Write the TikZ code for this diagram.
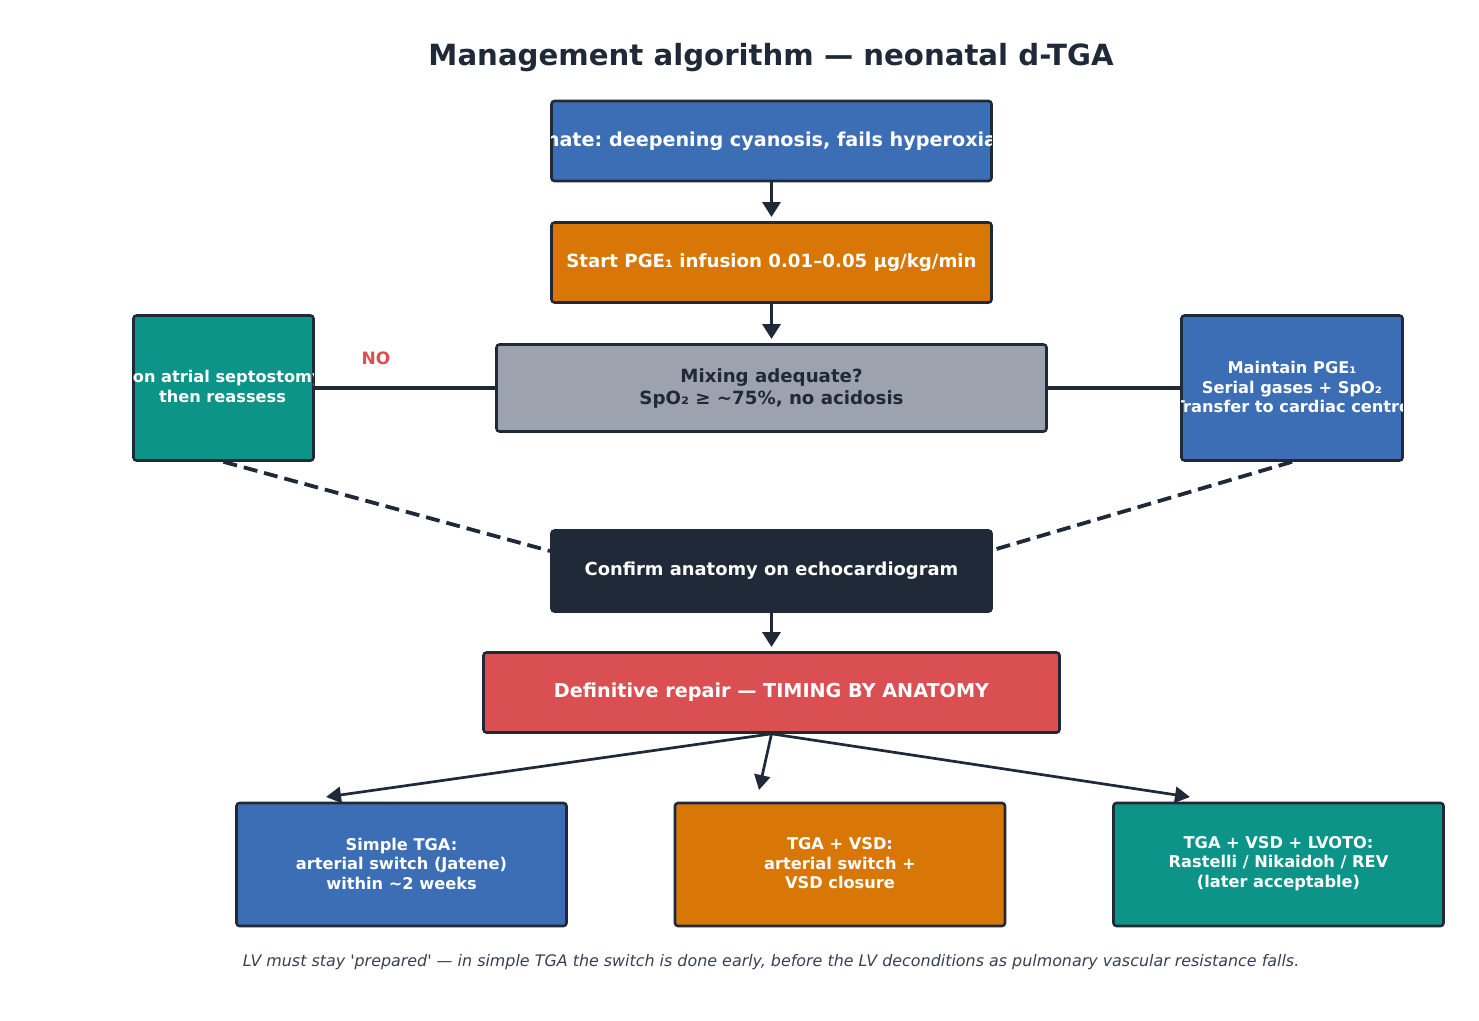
\documentclass[tikz,border=0pt]{standalone}
\usepackage{fontspec}
\setmainfont{DejaVu Sans}[Ligatures=TeXOff]
\usetikzlibrary{arrows.meta}
\frenchspacing
\definecolor{ink}{HTML}{1F2937}
\definecolor{cblue}{HTML}{3B6EB4}
\definecolor{corange}{HTML}{D97706}
\definecolor{cteal}{HTML}{0D9488}
\definecolor{cgray}{HTML}{9CA3AF}
\definecolor{cred}{HTML}{D94F52}
\definecolor{cfoot}{HTML}{374151}
\begin{document}
\frenchspacing
\begin{tikzpicture}[x=1pt,y=-1pt,
  box/.style={draw=ink, line width=2.6pt, rounded corners=3pt, inner sep=0pt},
  maintxt/.style={font=\fontsize{18.2}{22}\selectfont\bfseries, text=white, align=center},
  bigtxt/.style={font=\fontsize{19.2}{23}\selectfont\bfseries, text=white, align=center},
  smalltxt/.style={font=\fontsize{16.2}{19.5}\selectfont\bfseries, text=white, align=center},
  flow/.style={draw=ink, line width=3.4pt, -{Triangle[length=15pt,width=18pt]}},
  branch/.style={draw=ink, line width=2.7pt, -{Triangle[length=15pt,width=16pt]}},
  link/.style={draw=ink, line width=3.4pt},
  dashlink/.style={draw=ink, line width=3.8pt, dash pattern=on 14pt off 7pt}
]
\fill[white] (0,0) rectangle (1479,1020);
\useasboundingbox (0,0) rectangle (1479,1020);

% title
\node[font=\fontsize{29.2}{34}\selectfont\bfseries, text=ink] (title) at (771,58) {Management algorithm — neonatal d-TGA};

% boxes
\node[box, fill=cblue, minimum width=440pt, minimum height=80pt] (b1) at (771.5,141) {};
\node[box, fill=corange, minimum width=440pt, minimum height=80pt] (b2) at (771.5,262.5) {};
\node[box, fill=cgray, minimum width=550pt, minimum height=87pt] (mix) at (771.5,388) {};
\node[box, fill=cteal, minimum width=180pt, minimum height=145pt] (lbox) at (223.5,388) {};
\node[box, fill=cblue, minimum width=221pt, minimum height=145pt] (rbox) at (1292,388) {};
\node[box, fill=ink, minimum width=440pt, minimum height=81pt] (conf) at (771.5,571) {};
\node[box, fill=cred, minimum width=576pt, minimum height=80pt] (rep) at (771.5,692.5) {};
\node[box, fill=cblue, minimum width=330pt, minimum height=123pt] (o1) at (401.5,864.5) {};
\node[box, fill=corange, minimum width=330pt, minimum height=123pt] (o2) at (840,864.5) {};
\node[box, fill=cteal, minimum width=330pt, minimum height=123pt] (o3) at (1278.5,864.5) {};

% texts (clipped to their boxes)
\begin{scope}
  \clip ([shift={(1.3pt,-1.3pt)}]b1.north west) rectangle ([shift={(-1.3pt,1.3pt)}]b1.south east);
  \node[bigtxt] (t1) at (771.5,141) {\llap{Neo}nate: deepening cyanosis, fails hyperoxia\rlap{ test}};
\end{scope}
\node[maintxt] (t2) at (771.5,263) {Start PGE₁ infusion 0.01–0.05 µg/kg/min};
\node[maintxt, text=ink] (tmix) at (771.5,388) {Mixing adequate?\\SpO₂ ≥ \textasciitilde75\%, no acidosis};
\begin{scope}
  \clip ([shift={(1.3pt,-1.3pt)}]lbox.north west) rectangle ([shift={(-1.3pt,1.3pt)}]lbox.south east);
  \node[smalltxt] (tl) at (222.5,386.5) {\llap{Ballo}on atrial septostom\rlap{y}\\then reassess};
\end{scope}
\begin{scope}
  \clip ([shift={(1.3pt,-1.3pt)}]rbox.north west) rectangle ([shift={(-1.3pt,1.3pt)}]rbox.south east);
  \node[smalltxt] (tr) at (1292,387) {Maintain PGE₁\\Serial gases + SpO₂\\Transfer to cardiac centre};
\end{scope}
\node[maintxt, font=\fontsize{17.9}{22}\selectfont\bfseries] (tconf) at (771.5,571) {Confirm anatomy on echocardiogram};
\node[bigtxt] (trep) at (771.5,692) {Definitive repair — TIMING BY ANATOMY};
\node[smalltxt] (to1) at (401.5,863.5) {Simple TGA:\\arterial switch (Jatene)\\within \textasciitilde2 weeks};
\node[smalltxt] (to2) at (840,863.5) {TGA + VSD:\\arterial switch +\\VSD closure};
\node[smalltxt] (to3) at (1278.5,863.5) {TGA + VSD + LVOTO:\\Rastelli / Nikaidoh / REV\\(later acceptable)};

% connector end points
\coordinate (a1) at (771.5,217);
\coordinate (a2) at (771.5,339);
\coordinate (a3) at (771.5,647);
\coordinate (e1) at (326,797);
\coordinate (e2) at (759,790);
\coordinate (e3) at (1190,797);
\coordinate (d1) at (550,551);
\coordinate (d2) at (993,550);

% connectors
\draw[flow] (b1.south) -- (a1);
\draw[flow] (b2.south) -- (a2);
\draw[flow] (conf.south) -- (a3);
\draw[link] (mix.west) -- (lbox.east);
\draw[link] (mix.east) -- (rbox.west);
\node[text=cred, font=\fontsize{17}{20}\selectfont\bfseries] (no) at (376,358) {NO};
\draw[dashlink] (lbox.south) -- (d1);
\draw[dashlink] (rbox.south) -- (d2);
\draw[branch] (rep.south) -- (e1);
\draw[branch] (rep.south) -- (e2);
\draw[branch] (rep.south) -- (e3);

% footer
\node[font=\fontsize{15.9}{19}\selectfont\itshape, text=cfoot] (foot) at (771,962) {LV must stay 'prepared' — in simple TGA the switch is done early, before the LV deconditions as pulmonary vascular resistance falls.};
\end{tikzpicture}
\end{document}
